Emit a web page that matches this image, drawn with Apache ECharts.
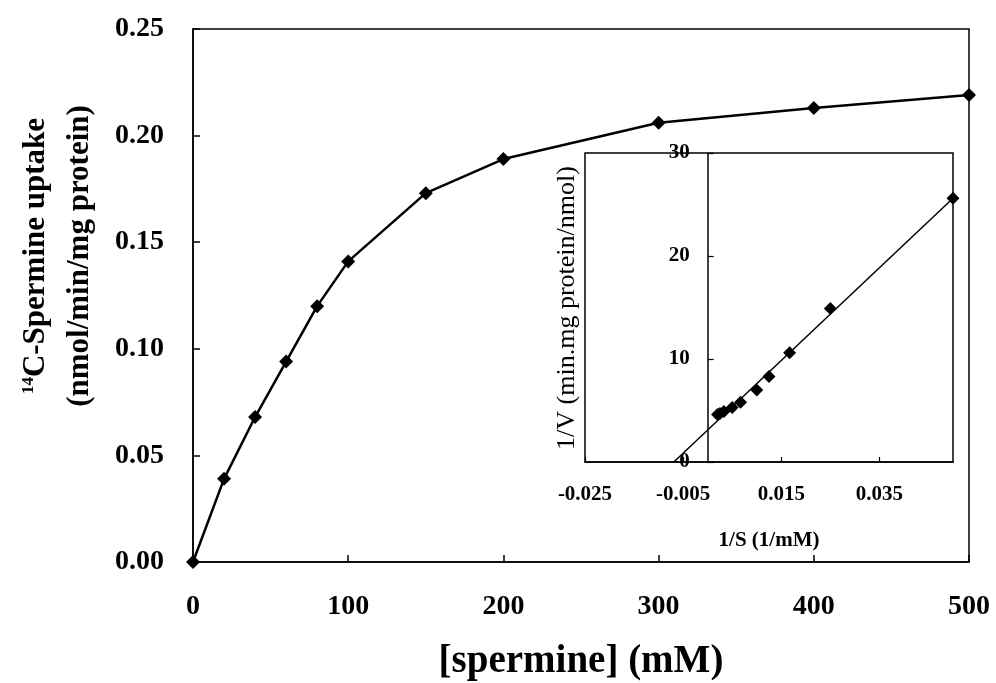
<!DOCTYPE html>
<html>
<head>
<meta charset="utf-8">
<script src="https://cdn.jsdelivr.net/npm/echarts@6/dist/echarts.min.js"></script>
<style>
html,body{margin:0;padding:0;background:#fff;}
#chart{width:996px;height:683px;}
</style>
</head>
<body>
<div id="chart"></div>
<script>
// Main plot data
const spermineConc = [0, 20, 40, 60, 80, 100, 150, 200, 300, 400, 500];
const uptake = [0, 0.039, 0.068, 0.094, 0.120, 0.141, 0.173, 0.189, 0.206, 0.213, 0.219];
// Inset (double reciprocal) data
const invS = [0.050, 0.025, 0.0167, 0.0125, 0.010, 0.0067, 0.005, 0.0033, 0.0025, 0.002];
const invV = [25.6, 14.9, 10.6, 8.3, 7.0, 5.8, 5.3, 4.9, 4.7, 4.6];
// Inset fitted line endpoints
const fitX = [-0.0069, 0.050];
const fitY = [0, 25.6];
// Axis ranges / ticks
const mainXTicks = [0, 100, 200, 300, 400, 500];
const mainYTicks = [0.00, 0.05, 0.10, 0.15, 0.20, 0.25];
const insetXRange = [-0.025, 0.05];
const insetYTicks = [0, 10, 20, 30];

const FONT = '"Liberation Serif", "Times New Roman", serif';
const pair = (xs, ys) => xs.map((x, i) => [x, ys[i]]);

// inset grid geometry
const INSET = {left: 585, top: 153, right: 43, bottom: 221};
const insetWidth = 996 - INSET.left - INSET.right;
// shift inset y axis so it sits on x = 0
const insetYOffset = -insetWidth * (0 - insetXRange[0]) / (insetXRange[1] - insetXRange[0]);

const chart = echarts.init(document.getElementById('chart'));
chart.setOption({
  backgroundColor: '#fff',
  animation: false,
  grid: [
    {left: 193, top: 29, right: 27, bottom: 121, show: true, borderColor: '#000', borderWidth: 1.5,
      backgroundColor: 'transparent', outerBoundsMode: 'none', containLabel: false},
    Object.assign({show: true, borderColor: '#000', borderWidth: 1.5, backgroundColor: '#fff',
      outerBoundsMode: 'none', containLabel: false}, INSET)
  ],
  xAxis: [
    {
      gridIndex: 0, type: 'value',
      min: mainXTicks[0], max: mainXTicks[mainXTicks.length - 1], interval: 100,
      axisLine: {lineStyle: {color: '#000', width: 1.5}},
      axisTick: {inside: true, length: 7, lineStyle: {color: '#000', width: 1.5}},
      splitLine: {show: false},
      axisLabel: {color: '#000', fontFamily: FONT, fontWeight: 'bold', fontSize: 28, margin: 31},
      name: '[spermine] (mM)', nameLocation: 'middle', nameGap: 80,
      nameTextStyle: {color: '#000', fontFamily: FONT, fontWeight: 'bold', fontSize: 39}
    },
    {
      gridIndex: 1, type: 'value',
      min: insetXRange[0], max: insetXRange[1], interval: 0.02,
      axisLine: {onZero: false, lineStyle: {color: '#000', width: 1.5}},
      axisTick: {inside: true, length: 5, lineStyle: {color: '#000', width: 1.2}},
      splitLine: {show: false},
      axisLabel: {color: '#000', fontFamily: FONT, fontWeight: 'bold', fontSize: 21, margin: 22,
        showMaxLabel: false,
        formatter: v => v.toFixed(3)},
      name: '1/S (1/mM)', nameLocation: 'middle', nameGap: 68,
      nameTextStyle: {color: '#000', fontFamily: FONT, fontWeight: 'bold', fontSize: 21}
    }
  ],
  yAxis: [
    {
      gridIndex: 0, type: 'value',
      min: mainYTicks[0], max: mainYTicks[mainYTicks.length - 1], interval: 0.05,
      axisLine: {lineStyle: {color: '#000', width: 1.5}},
      axisTick: {inside: true, length: 7, lineStyle: {color: '#000', width: 1.5}},
      splitLine: {show: false},
      axisLabel: {color: '#000', fontFamily: FONT, fontWeight: 'bold', fontSize: 28, margin: 29,
        formatter: v => v.toFixed(2)}
    },
    {
      gridIndex: 1, type: 'value',
      min: insetYTicks[0], max: insetYTicks[insetYTicks.length - 1], interval: 10,
      offset: insetYOffset,
      axisLine: {onZero: false, lineStyle: {color: '#000', width: 1.5}},
      axisTick: {inside: true, length: 6, lineStyle: {color: '#000', width: 1.2}},
      splitLine: {show: false},
      axisLabel: {color: '#000', fontFamily: FONT, fontWeight: 'bold', fontSize: 21, margin: 18}
    }
  ],
  series: [
    {
      type: 'line', xAxisIndex: 0, yAxisIndex: 0,
      data: pair(spermineConc, uptake),
      symbol: 'diamond', symbolSize: 14, clip: false,
      lineStyle: {color: '#000', width: 2.5},
      itemStyle: {color: '#000', opacity: 1}
    },
    {
      type: 'line', xAxisIndex: 1, yAxisIndex: 1,
      data: pair(fitX, fitY),
      symbol: 'none', clip: false,
      lineStyle: {color: '#000', width: 1.5}
    },
    {
      type: 'scatter', xAxisIndex: 1, yAxisIndex: 1,
      data: pair(invS, invV),
      symbol: 'diamond', symbolSize: 13, clip: false,
      itemStyle: {color: '#000', opacity: 1}
    }
  ],
  graphic: [
    {
      type: 'text', x: 36, y: 256, rotation: Math.PI / 2,
      style: {
        text: '{sup|14}C-Spermine uptake',
        font: 'bold 31px ' + FONT, fill: '#000',
        align: 'center', verticalAlign: 'middle',
        rich: {sup: {font: 'bold 17px ' + FONT, fill: '#000', verticalAlign: 'top', padding: [0, 0, 12, 0]}}
      }
    },
    {
      type: 'text', x: 80, y: 256, rotation: Math.PI / 2,
      style: {
        text: '(nmol/min/mg protein)',
        font: 'bold 31px ' + FONT, fill: '#000',
        align: 'center', verticalAlign: 'middle'
      }
    },
    {
      type: 'text', x: 567, y: 308, rotation: Math.PI / 2,
      style: {
        text: '1/V (min.mg protein/nmol)',
        font: '26px ' + FONT, fill: '#000',
        align: 'center', verticalAlign: 'middle'
      }
    }
  ]
});
</script>
</body>
</html>
